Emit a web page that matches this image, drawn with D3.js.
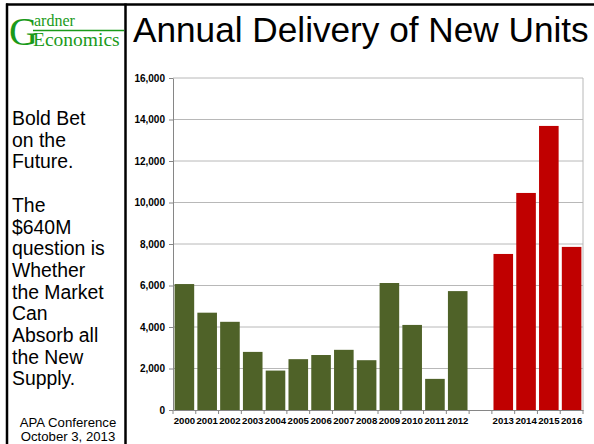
<!DOCTYPE html>
<html>
<head>
<meta charset="utf-8">
<script src="https://cdn.jsdelivr.net/npm/d3@7"></script>
<style>
  body { margin: 0; background: #fff; }
  text { font-family: Arial, "Liberation Sans", sans-serif; }
</style>
</head>
<body>
<figure id="bar" style="margin:0"></figure>
<script>
// data
const actualYears = ["2000", "2001", "2002", "2003", "2004", "2005", "2006", "2007", "2008", "2009", "2010", "2011", "2012"];
const actualUnits = [6070, 4690, 4250, 2800, 1900, 2450, 2650, 2900, 2400, 6120, 4100, 1500, 5730];
const projectedYears = ["2013", "2014", "2015", "2016"];
const projectedUnits = [7520, 10460, 13690, 7860];
const yTicks = [0, 2000, 4000, 6000, 8000, 10000, 12000, 14000, 16000];

const title = "Annual Delivery of New Units";
const sideText = ["Bold Bet", "on the", "Future.", "", "The", "$640M", "question is", "Whether", "the Market", "Can", "Absorb all", "the New", "Supply."];
const footer = ["APA Conference", "October 3, 2013"];

const W = 594, H = 444;
const plot = { left: 173, right: 583, top: 78, bottom: 410 };

const svg = d3.select("figure#bar")
  .append("svg")
  .attr("width", W)
  .attr("height", H);

// frame lines
svg.append("line").attr("x1", 6).attr("x2", W).attr("y1", 4.5).attr("y2", 4.5)
  .attr("stroke", "#000").attr("stroke-width", 2.5);
svg.append("line").attr("x1", 7).attr("x2", 7).attr("y1", 3.5).attr("y2", H)
  .attr("stroke", "#000").attr("stroke-width", 2.5);
svg.append("line").attr("x1", 125.5).attr("x2", 125.5).attr("y1", 3.5).attr("y2", H)
  .attr("stroke", "#000").attr("stroke-width", 2.5);

// logo
const serif = "'Liberation Serif', 'DejaVu Serif', serif";
const logo = svg.append("g").attr("fill", "#1a9a1a");
logo.append("text").attr("x", 9).attr("y", 45).attr("font-size", 40).style("font-family", serif).text("G");
logo.append("text").attr("x", 34).attr("y", 25.5).attr("font-size", 16).style("font-family", serif).text("ardner");
logo.append("line").attr("x1", 33).attr("x2", 124).attr("y1", 30.5).attr("y2", 30.5)
  .attr("stroke", "#1a9a1a").attr("stroke-width", 1.5);
logo.append("text").attr("x", 33).attr("y", 46).attr("font-size", 19.5).style("font-family", serif).text("Economics");

// title
svg.append("text")
  .attr("x", 133).attr("y", 42)
  .attr("font-size", 35.2)
  .attr("fill", "#000")
  .text(title);

// side text
svg.append("g").selectAll("text")
  .data(sideText)
  .enter()
  .append("text")
  .attr("x", 12)
  .attr("y", (d, i) => 125 + i * 21.7)
  .attr("font-size", 19.4)
  .text(d => d);

svg.append("g").selectAll("text")
  .data(footer)
  .enter()
  .append("text")
  .attr("x", 68)
  .attr("y", (d, i) => 427 + i * 14)
  .attr("text-anchor", "middle")
  .attr("font-size", 13.2)
  .text(d => d);

// scales
const domain = actualYears.concat(["gap"], projectedYears);
const x = d3.scaleBand()
  .range([plot.left, plot.right])
  .domain(domain)
  .paddingInner(0.14)
  .paddingOuter(0.07);

const y = d3.scaleLinear()
  .domain([0, 16000])
  .range([plot.bottom, plot.top]);

// gridlines
svg.append("g").selectAll("line")
  .data(yTicks.filter(d => d > 0))
  .enter()
  .append("line")
  .attr("x1", plot.left).attr("x2", plot.right)
  .attr("y1", d => y(d)).attr("y2", d => y(d))
  .attr("stroke", "#b8b8b8").attr("stroke-width", 1);

// right border
svg.append("line")
  .attr("x1", plot.right).attr("x2", plot.right)
  .attr("y1", plot.top).attr("y2", plot.bottom)
  .attr("stroke", "#b8b8b8");

// Y axis
const yAxis = svg.append("g")
  .attr("transform", "translate(" + plot.left + ",0)")
  .call(d3.axisLeft(y).tickValues(yTicks).tickFormat(d3.format(",")).tickSize(4).tickSizeOuter(0));
yAxis.select(".domain").attr("stroke", "#868686");
yAxis.selectAll(".tick line").attr("stroke", "#868686");
yAxis.selectAll("text")
  .attr("x", -8)
  .style("font-family", "Arial, 'Liberation Sans', sans-serif")
  .attr("font-size", 10).attr("font-weight", "bold").attr("fill", "#000");

// bars
const bars = actualYears.map((d, i) => ({ year: d, units: actualUnits[i], color: "#4f6228" }))
  .concat(projectedYears.map((d, i) => ({ year: d, units: projectedUnits[i], color: "#c00000" })));

svg.selectAll("bars")
  .data(bars)
  .enter()
  .append("rect")
  .attr("x", d => x(d.year))
  .attr("y", d => y(d.units))
  .attr("width", x.bandwidth())
  .attr("height", d => y(0) - y(d.units))
  .attr("fill", d => d.color);

// X axis
const xAxis = svg.append("g")
  .attr("transform", "translate(0," + plot.bottom + ")")
  .call(d3.axisBottom(x).tickSize(0).tickSizeOuter(0).tickFormat(d => d === "gap" ? "" : d));
xAxis.select(".domain").attr("stroke", "#868686");
xAxis.selectAll("text")
  .attr("dy", "1.15em")
  .style("font-family", "Arial, 'Liberation Sans', sans-serif")
  .attr("font-size", 9.6).attr("font-weight", "bold").attr("fill", "#000");

// tick marks at category boundaries
const bounds = domain.map(d => x(d) - x.step() * x.paddingInner() / 2).concat([plot.right]);
xAxis.selectAll(".bound")
  .data(bounds)
  .enter()
  .append("line")
  .attr("x1", d => d).attr("x2", d => d)
  .attr("y1", 0).attr("y2", 4)
  .attr("stroke", "#868686");
</script>
</body>
</html>
